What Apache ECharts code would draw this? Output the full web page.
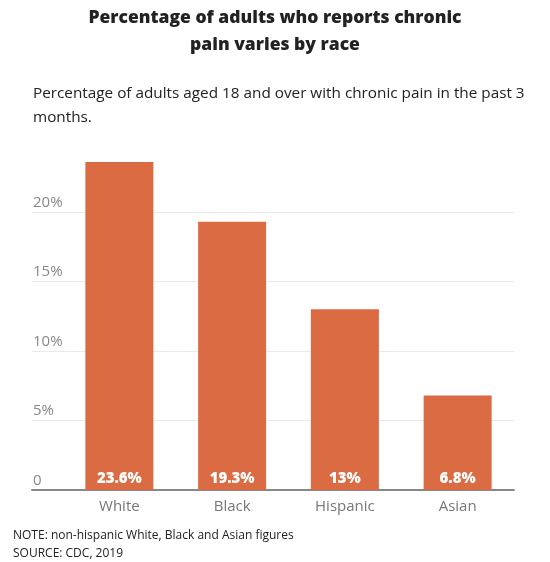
<!DOCTYPE html>
<html>
<head>
<meta charset="utf-8">
<script src="https://cdn.jsdelivr.net/npm/echarts@6/dist/echarts.min.js"></script>
<style>
  html, body { margin: 0; padding: 0; background: #fff; }
  #chart { width: 550px; height: 562px; }
</style>
</head>
<body>
<div id="chart"></div>
<script>
// data
const categories = ['White', 'Black', 'Hispanic', 'Asian'];
const painPct = [23.6, 19.3, 13, 6.8];
const yTicks = [0, 5, 10, 15, 20];

const chart = echarts.init(document.getElementById('chart'));
const FONT = '"Open Sans", sans-serif';
const gridTop = 142.5, gridBottom = 72;

chart.setOption({
  animation: false,
  textStyle: { fontFamily: FONT },
  title: [
    {
      text: 'Percentage of adults who reports chronic\npain varies by race',
      left: 275, top: 5, textAlign: 'center', padding: 0,
      textStyle: { fontFamily: FONT, fontSize: 17.5, fontWeight: 800, color: '#222', lineHeight: 27 }
    },
    {
      text: 'Percentage of adults aged 18 and over with chronic pain in the past 3\nmonths.',
      left: 33, top: 82, padding: 0,
      textStyle: { fontFamily: FONT, fontSize: 15.3, fontWeight: 'normal', color: '#222', lineHeight: 24 }
    },
    {
      text: 'NOTE: non-hispanic White, Black and Asian figures\nSOURCE: CDC, 2019',
      left: 13, top: 527, padding: 0,
      textStyle: { fontFamily: FONT, fontSize: 12, fontWeight: 'normal', color: '#222', lineHeight: 18 }
    }
  ],
  grid: [
    // wide grid: gridlines, y labels, baseline
    { left: 32, right: 36, top: gridTop, bottom: gridBottom },
    // inner grid: bars and categories
    { left: 63, right: 36, top: gridTop, bottom: gridBottom }
  ],
  xAxis: [
    {
      gridIndex: 0, type: 'category', data: [''],
      axisLine: { show: true, lineStyle: { color: '#888', width: 2 } },
      axisTick: { show: false }, axisLabel: { show: false }
    },
    {
      gridIndex: 1, type: 'category', data: categories,
      axisLine: { show: false }, axisTick: { show: false },
      axisLabel: { color: '#777', fontSize: 15, margin: 9 }
    }
  ],
  yAxis: [
    {
      gridIndex: 0, type: 'value', min: 0, max: 25, interval: 5,
      axisLine: { show: false }, axisTick: { show: false },
      splitLine: { show: true, showMinLine: false, showMaxLine: false, lineStyle: { color: '#e9e9e9', width: 1 } },
      axisLabel: {
        inside: true, showMaxLabel: false, margin: 1,
        color: '#888', fontSize: 15, verticalAlign: 'bottom', padding: [0, 0, 2, 0],
        formatter: v => (yTicks.includes(v) ? (v === 0 ? '0' : v + '%') : '')
      }
    },
    {
      gridIndex: 1, type: 'value', min: 0, max: 25, interval: 5, show: false,
      splitLine: { show: false }
    }
  ],
  series: [
    {
      type: 'bar', xAxisIndex: 1, yAxisIndex: 1,
      data: painPct, barWidth: 68,
      itemStyle: { color: '#DB6B43' },
      label: {
        show: true, position: 'insideBottom', distance: 4,
        color: '#fff', fontSize: 15, fontWeight: 800,
        formatter: p => p.value + '%'
      }
    }
  ]
});
</script>
</body>
</html>
